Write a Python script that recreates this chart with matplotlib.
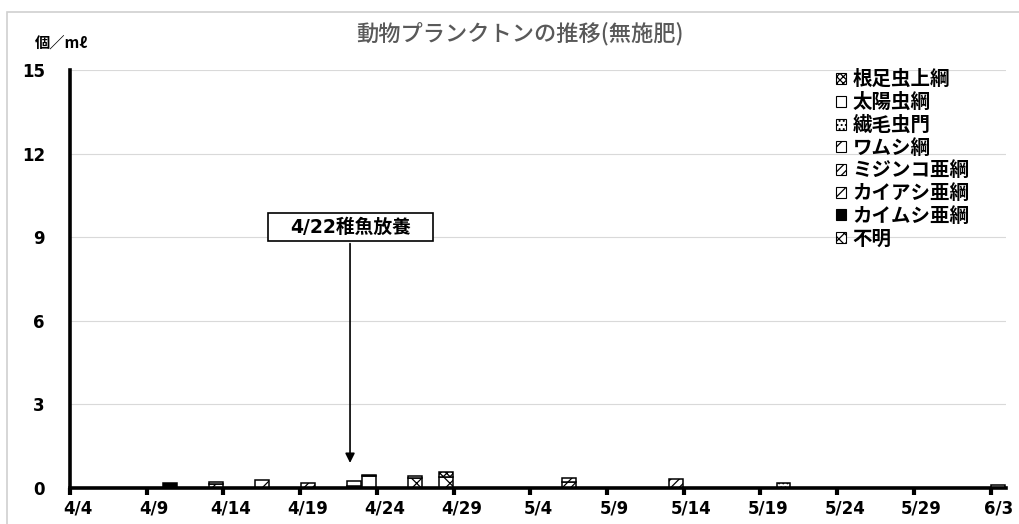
import matplotlib
matplotlib.use("Agg")
import matplotlib.pyplot as plt
import matplotlib.dates as mdates
from matplotlib.patches import Patch, Rectangle
import pandas as pd
import numpy as np

plt.rcParams['font.family'] = ['Noto Sans CJK JP', 'DejaVu Sans']
plt.rcParams['hatch.linewidth'] = 0.9
LATIN = ['DejaVu Sans', 'Noto Sans CJK JP']

YEAR = "2021"
title = "動物プランクトンの推移(無施肥)"
unit_label = "個／mℓ"
note_text = "4/22稚魚放養"
note_date = "4/22"

sample_dates = ["4/10", "4/13", "4/16", "4/19", "4/22", "4/23",
                "4/26", "4/28", "5/6", "5/13", "5/20", "6/3"]

# individuals per mL, one list per taxon (same order as sample_dates)
rhizopoda   = [0, 0, 0, 0, 0, 0, 0, 0.17, 0, 0, 0, 0]           # 根足虫上綱
heliozoa    = [0, 0.08, 0, 0, 0.17, 0, 0, 0, 0, 0, 0, 0.12]     # 太陽虫綱
ciliophora  = [0, 0, 0, 0, 0.07, 0.06, 0.06, 0, 0, 0, 0.18, 0]  # 繊毛虫門
rotifera    = [0, 0.14, 0.30, 0, 0, 0, 0, 0, 0.13, 0, 0, 0]     # ワムシ綱
cladocera   = [0, 0, 0, 0.18, 0, 0, 0, 0, 0.22, 0.32, 0, 0]     # ミジンコ亜綱
copepoda    = [0, 0, 0, 0, 0, 0.42, 0.37, 0.40, 0, 0, 0, 0]     # カイアシ亜綱
ostracoda   = [0.17, 0, 0, 0, 0, 0, 0, 0, 0, 0, 0, 0]           # カイムシ亜綱
unknown     = [0, 0, 0, 0, 0, 0, 0, 0, 0, 0, 0, 0]              # 不明

names = ["根足虫上綱", "太陽虫綱", "繊毛虫門", "ワムシ綱",
         "ミジンコ亜綱", "カイアシ亜綱", "カイムシ亜綱", "不明"]
series = [rhizopoda, heliozoa, ciliophora, rotifera,
          cladocera, copepoda, ostracoda, unknown]

styles = [
    dict(facecolor="white", hatch="xxxxx"),
    dict(facecolor="white", hatch=""),
    dict(facecolor="white", hatch="...."),
    dict(facecolor="white", hatch="//"),
    dict(facecolor="white", hatch="////"),
    dict(facecolor="white", hatch="x"),
    dict(facecolor="black", hatch=""),
    dict(facecolor="white", hatch="xxx"),
]

y_ticks = [0, 3, 6, 9, 12, 15]
x_tick_labels = ["4/4", "4/9", "4/14", "4/19", "4/24", "4/29",
                 "5/4", "5/9", "5/14", "5/19", "5/24", "5/29", "6/3"]

def to_date(s):
    return pd.Timestamp(YEAR + "/" + s)

x = np.array([mdates.date2num(to_date(d)) for d in sample_dates]) + 0.5
x_ticks = np.array([mdates.date2num(to_date(d)) for d in x_tick_labels])

fig = plt.figure(figsize=(10.2, 5.24), dpi=100)
ax = fig.add_axes([70 / 1020, 36 / 524, 936 / 1020, 418 / 524])

# stacked columns: the last series sits at the bottom of each stack
bottom = np.zeros(len(sample_dates))
for name, vals, st in reversed(list(zip(names, series, styles))):
    vals = np.array(vals, dtype=float)
    mask = vals > 0
    ax.bar(x[mask], vals[mask], width=0.9, bottom=bottom[mask],
           facecolor=st["facecolor"], hatch=st["hatch"],
           edgecolor="black", linewidth=1.1, zorder=3)
    bottom += vals

ax.set_xlim(x_ticks[0], x_ticks[-1] + 1)
ax.set_ylim(0, 15)
ax.set_yticks(y_ticks)
ax.set_yticklabels([str(v) for v in y_ticks], fontsize=12,
                   fontweight="bold", family=LATIN)
ax.grid(axis="y", color="#d9d9d9", linewidth=0.8, zorder=0)
ax.tick_params(axis="y", length=0, pad=18)

ax.set_xticks(x_ticks)
ax.set_xticklabels([])
ax.tick_params(axis="x", which="major", direction="out", length=5, width=3,
               color="black")
ax.set_xticks(x_ticks + 0.5, minor=True)
ax.set_xticklabels(x_tick_labels, minor=True, fontsize=12,
                   fontweight="bold", family=LATIN)
ax.tick_params(axis="x", which="minor", length=0, pad=8)

for side in ("top", "right"):
    ax.spines[side].set_visible(False)
for side in ("left", "bottom"):
    ax.spines[side].set_linewidth(2.6)
    ax.spines[side].set_zorder(4)

# release annotation: arrow down to the axis, label in a framed box
nx = mdates.date2num(to_date(note_date)) + 0.25
ax.annotate("", xy=(nx, 0.8), xytext=(nx, 8.87),
            arrowprops=dict(arrowstyle="-|>", color="black", lw=1.2,
                            mutation_scale=14), zorder=5)
fig.add_artist(Rectangle((268 / 1020, 1 - 241 / 524), 165 / 1020, 28 / 524,
                         transform=fig.transFigure, facecolor="white",
                         edgecolor="black", linewidth=1.2, zorder=6))
fig.text(350.5 / 1020, 1 - 227 / 524, note_text, ha="center", va="center",
         fontsize=13.5, fontweight="bold", family=LATIN, zorder=7)

handles = [Patch(facecolor=st["facecolor"], hatch=st["hatch"],
                 edgecolor="black", linewidth=0.8, label=n)
           for n, st in zip(names, styles)]
leg = ax.legend(handles=handles, loc="upper left",
                bbox_to_anchor=((836 - 70) / 936, 1.0), frameon=False,
                prop=dict(size=14, weight="bold"), handlelength=0.5,
                handleheight=0.5, handletextpad=0.35, labelspacing=0.19,
                borderaxespad=0.0, borderpad=0.0)

fig.text(520 / 1020, 1 - 34 / 524, title, ha="center", va="center",
         fontsize=16, color="#595959", fontweight="medium")
fig.text(61 / 1020, 1 - 43 / 524, unit_label, ha="center", va="center",
         fontsize=11, fontweight="bold")

# chart area border
fig.add_artist(Rectangle((7 / 1020, -0.05), 1.1, 1 - 12 / 524 + 0.05,
                         transform=fig.transFigure, fill=False,
                         edgecolor="#d0d0d0", linewidth=1.2))

fig.savefig("out.png", dpi=100)
